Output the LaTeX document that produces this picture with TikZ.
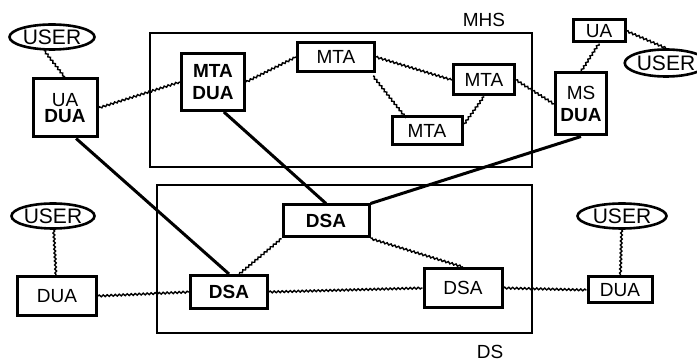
\documentclass[tikz,border=0pt]{standalone}
\usepackage{fontspec}
\setmainfont{Liberation Sans}
\usepackage{tikz}
\usetikzlibrary{shapes,positioning,decorations.pathmorphing}

\tikzset{
  box/.style={draw,line width=1.5pt,inner sep=0pt,align=center,font=\fontsize{9.5}{11}\selectfont},
  user/.style={draw,ellipse,line width=1.3pt,inner sep=0pt,minimum height=12.5pt,font=\fontsize{10.5}{12}\selectfont},
  wavy/.style={decorate,decoration={snake,amplitude=0.45pt,segment length=2pt},line width=0.7pt},
  link/.style={line width=1.5pt},
  area/.style={line width=1.1pt}
}

\begin{document}
\begin{tikzpicture}[x=0.5pt,y=-0.5pt]
\useasboundingbox (0,0) rectangle (697,363);
% Frames
\draw[area] (150,33) rectangle (532,167);
\draw[area] (157,185) rectangle (532,333);
\node[font=\fontsize{9.5}{11}\selectfont] (mhs) at (484,20) {MHS};
\node[font=\fontsize{9.5}{11}\selectfont] (ds) at (490,352) {DS};

% Message handling side
\node[box,minimum width=32pt,minimum height=29pt] (uadua) at (65,108) {UA\\[-3pt]\textbf{DUA}};
\node[box,minimum width=31.5pt,minimum height=28.5pt] (mtadua) at (213,82) {\textbf{MTA}\\\textbf{DUA}};
\node[box,minimum width=38.5pt,minimum height=14.5pt] (mtaA) at (336,57) {MTA};
\node[box,minimum width=30.5pt,minimum height=15pt] (mtaB) at (484,80) {MTA};
\node[box,minimum width=35pt,minimum height=14pt] (mtaC) at (427,131) {MTA};
\node[box,minimum width=26pt,minimum height=11pt] (ua) at (599,31) {UA};
\node[box,minimum width=25.5pt,minimum height=31pt] (msdua) at (581,104) {MS\\\textbf{DUA}};

% Directory side
\node[box,minimum width=39.5pt,minimum height=19.5pt] (duaL) at (57,296) {DUA};
\node[box,minimum width=38.5pt,minimum height=16.5pt] (dsaA) at (229,292) {\textbf{DSA}};
\node[box,minimum width=43pt,minimum height=16pt] (dsaB) at (326,221) {\textbf{DSA}};
\node[box,minimum width=39pt,minimum height=19.5pt] (dsaC) at (463,288) {DSA};
\node[box,minimum width=32pt,minimum height=13pt] (duaR) at (620,290) {DUA};

% Users
\node[user,minimum width=42.5pt] (userA) at (52,37) {USER};
\node[user,minimum width=33pt,minimum height=13.5pt] (userB) at (666,63) {USER};
\node[user,minimum width=41.5pt] (userC) at (53,216) {USER};
\node[user,minimum width=44.5pt] (userD) at (622,216) {USER};

% Wavy links
\draw[wavy] (userA.-120) -- (uadua.north);
\draw[wavy] (uadua.east) -- (mtadua.west);
\draw[wavy] (mtadua.east) -- (mtaA.west);
\draw[wavy] (mtaA.east) -- (mtaB.west);
\draw[wavy] (mtaA.south east) ++(-3,3) -- ++(33,42);
\draw[wavy] (mtaC.east) ++(0,-6) -- (mtaB.south);
\draw[wavy] (mtaB.east) -- (msdua.west);
\draw[wavy] (ua.south) -- (msdua.north);
\draw[wavy] (ua.east) -- (userB.north);
\draw[wavy] (userC) -- (duaL);
\draw[wavy] (duaL.east) -- (dsaA.west);
\draw[wavy] (dsaA.60) -- (dsaB.south west);
\draw[wavy] (dsaA.east) -- (dsaC.west);
\draw[wavy] (dsaB.south east) -- (dsaC.north);
\draw[wavy] (dsaC.east) -- (duaR.west);
\draw[wavy] (userD) -- (duaR);

% Directory access
\draw[link] (uadua.-70) -- (dsaA.north);
\draw[link] (mtadua.-70) -- (dsaB.north);
\draw[link] (msdua.south) -- (dsaB.north east);
\end{tikzpicture}
\end{document}
